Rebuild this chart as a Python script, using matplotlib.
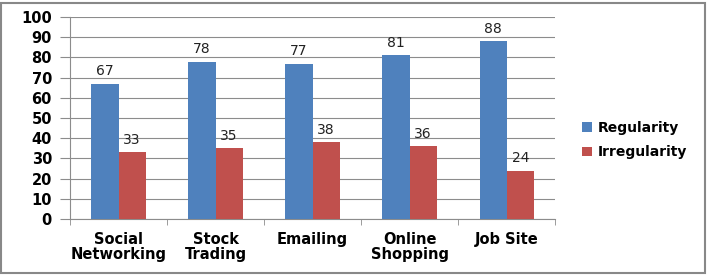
import matplotlib.pyplot as plt
import numpy as np
from matplotlib.patches import Rectangle

categories = ["Social\nNetworking", "Stock\nTrading", "Emailing", "Online\nShopping", "Job Site"]
regularity = [67, 78, 77, 81, 88]
irregularity = [33, 35, 38, 36, 24]

blue = "#4F81BD"
red = "#C0504D"

fig = plt.figure(figsize=(7.1, 2.76), dpi=100)
ax = fig.add_axes([0.0986, 0.2065, 0.6834, 0.7315])

x = np.arange(len(categories))
w = 0.28
b1 = ax.bar(x - w/2, regularity, w, color=blue, label="Regularity", zorder=3)
b2 = ax.bar(x + w/2, irregularity, w, color=red, label="Irregularity", zorder=3)

for bars in (b1, b2):
    for r in bars:
        ax.annotate(str(int(r.get_height())), (r.get_x() + r.get_width()/2, r.get_height()),
                    xytext=(0, 4), textcoords="offset points",
                    ha="center", va="bottom", fontsize=10, color="#222222")

ax.set_xlim(-0.5, len(categories) - 0.5)
ax.set_ylim(0, 100)
ax.set_yticks(range(0, 101, 10))
ax.yaxis.grid(True, color="#8c8c8c", linewidth=0.8, zorder=0)
ax.set_axisbelow(True)

ax.set_xticks(x)
ax.set_xticklabels(categories, fontsize=10.5, fontweight="bold", linespacing=1.05)
ax.set_xticks(np.arange(-0.5, len(categories)), minor=True)
ax.tick_params(axis="x", which="major", length=0, pad=9)
ax.tick_params(axis="x", which="minor", length=4, color="#8c8c8c")
ax.tick_params(axis="y", length=7, color="#8c8c8c", labelsize=10.5, pad=6)
for lbl in ax.get_yticklabels():
    lbl.set_fontweight("bold")

for s in ("top", "right"):
    ax.spines[s].set_visible(False)
for s in ("left", "bottom"):
    ax.spines[s].set_color("#8c8c8c")

ax.legend(loc="center left", bbox_to_anchor=(1.03, 0.39), frameon=False,
          prop={"size": 10, "weight": "bold"}, handlelength=0.7, handleheight=0.7,
          handletextpad=0.4, labelspacing=0.75)

fig.patches.append(Rectangle((0.002, 0.01), 0.991, 0.978, transform=fig.transFigure,
                             fill=False, edgecolor="#888888", linewidth=1.5))

fig.savefig("out.png", dpi=100)
